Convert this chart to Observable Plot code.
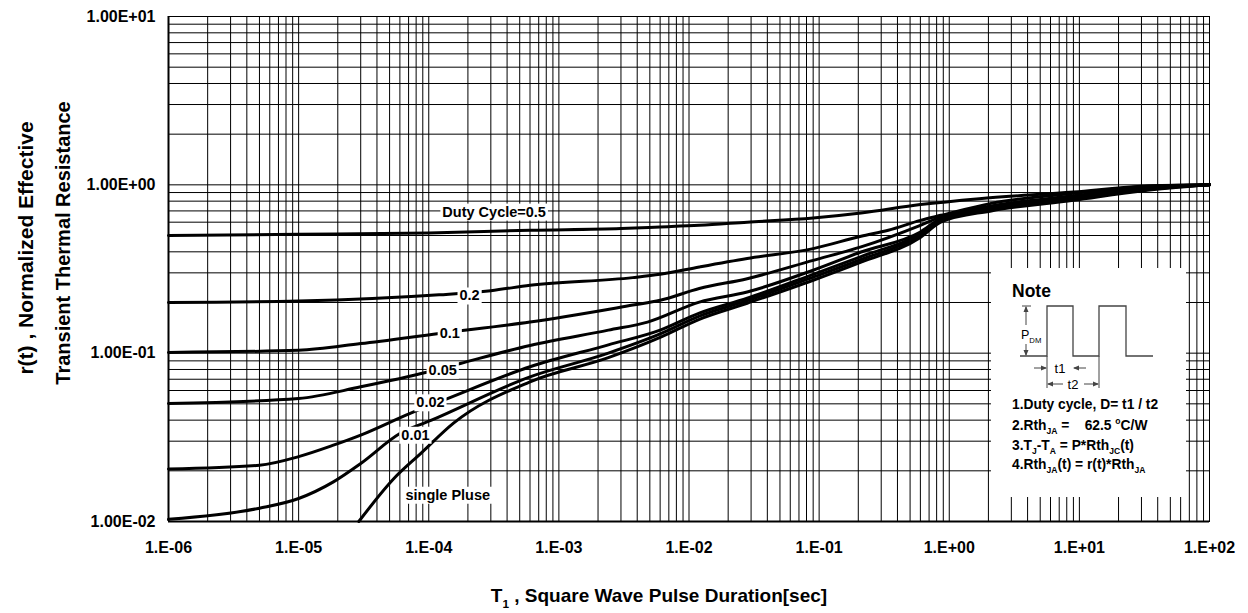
<!DOCTYPE html>
<html><head><meta charset="utf-8">
<script src="https://cdn.jsdelivr.net/npm/d3@7"></script>
<script src="https://cdn.jsdelivr.net/npm/@observablehq/plot@0.6"></script>
<style>
html,body{margin:0;padding:0;background:#fff;}
#chart{position:relative;width:1248px;height:613px;}
text{white-space:pre;}
</style></head><body><div id="chart"></div>
<script>
const FONT = "'Liberation Sans', Arial, Helvetica, sans-serif";

// axis ticks
const xTicks = [1e-6, 1e-5, 1e-4, 1e-3, 1e-2, 1e-1, 1, 10, 100];
const xTickLabels = ["1.E-06","1.E-05","1.E-04","1.E-03","1.E-02","1.E-01","1.E+00","1.E+01","1.E+02"];
const yTicks = [0.01, 0.1, 1, 10];
const yTickLabels = ["1.00E-02","1.00E-01","1.00E+00","1.00E+01"];
const minorMultipliers = [2,3,4,5,6,7,8,9];

// series: [pulse duration (s), r(t)]
const duty05 = [[1e-6,0.50],[1e-5,0.508],[1e-4,0.518],[6e-4,0.537],[3e-3,0.55],[6e-3,0.562],[1.2e-2,0.575],[2.8e-2,0.60],[9e-2,0.635],[0.21,0.68],[0.6,0.763],[1.7,0.828],[9,0.906],[30,0.98],[100,1.0]];
const duty02 = [[1e-6,0.20],[1e-5,0.204],[1.2e-4,0.222],[3e-4,0.235],[6e-4,0.253],[3.7e-3,0.281],[6e-3,0.294],[1.2e-2,0.325],[2.8e-2,0.365],[9e-2,0.418],[0.21,0.495],[0.34,0.537],[0.6,0.615],[0.86,0.659],[2.1,0.776],[9,0.89],[30,0.975],[100,1.0]];
const duty01 = [[1e-6,0.101],[1e-5,0.104],[3e-5,0.114],[1.2e-4,0.131],[6e-4,0.153],[3.7e-3,0.193],[6e-3,0.206],[1.2e-2,0.242],[2.8e-2,0.277],[9e-2,0.356],[0.21,0.428],[0.6,0.575],[0.86,0.645],[2.1,0.75],[9,0.86],[30,0.96],[100,1.0]];
const duty005 = [[1e-6,0.0503],[1e-5,0.0538],[3e-5,0.0631],[1e-4,0.0775],[1.75e-4,0.0869],[6e-4,0.111],[2.4e-3,0.137],[4.8e-3,0.153],[1.2e-2,0.201],[2.8e-2,0.231],[9e-2,0.311],[0.21,0.399],[0.6,0.525],[0.86,0.63],[2.1,0.735],[9,0.845],[30,0.95],[100,1.0]];
const duty002 = [[1e-6,0.0205],[5e-6,0.0216],[1e-5,0.0243],[1.85e-5,0.0284],[3e-5,0.0326],[7.2e-5,0.0439],[1.3e-4,0.0526],[6e-4,0.083],[2.4e-3,0.112],[6e-3,0.137],[1.2e-2,0.173],[2.8e-2,0.212],[9e-2,0.294],[0.21,0.375],[0.6,0.512],[0.86,0.62],[2.1,0.72],[9,0.83],[30,0.94],[100,1.0]];
const duty001 = [[1e-6,0.0103],[5e-6,0.012],[1e-5,0.0137],[1.85e-5,0.0172],[3e-5,0.0221],[6e-5,0.0333],[1.05e-4,0.040],[6e-4,0.0723],[2.4e-3,0.100],[6e-3,0.130],[1.2e-2,0.166],[2.8e-2,0.205],[9e-2,0.283],[0.21,0.36],[0.6,0.50],[0.86,0.61],[2.1,0.71],[9,0.82],[30,0.93],[100,1.0]];
const singlePulse = [[2.9e-5,0.01],[5.4e-5,0.018],[8.7e-5,0.0254],[1.55e-4,0.0384],[6e-4,0.0676],[2.4e-3,0.094],[6e-3,0.124],[1.2e-2,0.159],[2.8e-2,0.198],[9e-2,0.271],[0.21,0.347],[0.6,0.487],[0.86,0.60],[2.1,0.70],[9,0.81],[30,0.92],[100,1.0]];

const seriesNames = ["0.5","0.2","0.1","0.05","0.02","0.01","single"];
const seriesData = [duty05, duty02, duty01, duty005, duty002, duty001, singlePulse];

// curve labels (text, x, y)
const labelTexts = ["Duty Cycle=0.5","0.2","0.1","0.05","0.02","0.01","single Pluse"];
const labelX = [3.18e-4, 2.06e-4, 1.45e-4, 1.28e-4, 1.03e-4, 7.9e-5, 1.4e-4];
const labelY = [0.69, 0.219, 0.1315, 0.0793, 0.0508, 0.0326, 0.01435];

const rows = seriesData.flatMap((s, i) => s.map(([x, y]) => ({series: seriesNames[i], x, y})));
const labels = labelTexts.map((t, i) => ({text: t, x: labelX[i], y: labelY[i]}));

const xGrid = xTicks.slice(0, -1).flatMap(t => minorMultipliers.map(m => m * t));
const yGrid = yTicks.slice(0, -1).flatMap(t => minorMultipliers.map(m => m * t));

const W = 1248, H = 613, ML = 168, MR = 39, MT = 16, MB = 92;

const plot = Plot.plot({
  width: W, height: H,
  marginLeft: ML, marginRight: MR, marginTop: MT, marginBottom: MB,
  style: {fontFamily: FONT, background: "white", color: "#000", overflow: "visible"},
  x: {type: "log", domain: [1e-6, 100]},
  y: {type: "log", domain: [0.01, 10]},
  marks: [
    Plot.ruleX(xGrid, {stroke: "#000", strokeWidth: 1}),
    Plot.ruleX(xTicks, {stroke: "#000", strokeWidth: 1}),
    Plot.ruleY(yGrid, {stroke: "#000", strokeWidth: 1}),
    Plot.ruleY(yTicks, {stroke: "#000", strokeWidth: 1}),
    Plot.frame({stroke: "#000", strokeWidth: 1}),
    Plot.ruleX([1e-6], {stroke: "#000", strokeWidth: 2}),
    Plot.ruleY([0.01], {stroke: "#000", strokeWidth: 2}),
    Plot.line(rows, {x: "x", y: "y", z: "series", stroke: "#000", strokeWidth: 3, curve: "monotone-x"}),
    Plot.text(labels, {x: "x", y: "y", text: "text", fontSize: 14.5, fontWeight: "bold", fill: "#000"}),
    Plot.axisX(xTicks, {tickSize: 0, tickPadding: 20, fontSize: 16, fontWeight: "bold", label: null,
      tickFormat: d => xTickLabels[xTicks.indexOf(d)]}),
    Plot.axisY(yTicks, {tickSize: 0, tickPadding: 13, fontSize: 16, fontWeight: "bold", label: null,
      tickFormat: d => yTickLabels[yTicks.indexOf(d)]})
  ]
});

document.getElementById("chart").appendChild(plot);
const svg = d3.select(plot);

// white boxes behind curve labels
const labelSet = new Set(labelTexts);
svg.selectAll("text").filter(function() { return labelSet.has(this.textContent); }).each(function() {
  const b = this.getBBox();
  const r = document.createElementNS("http://www.w3.org/2000/svg", "rect");
  r.setAttribute("x", b.x - 2); r.setAttribute("y", b.y);
  r.setAttribute("width", b.width + 4); r.setAttribute("height", b.height + 1);
  r.setAttribute("fill", "#fff");
  const tr = this.getAttribute("transform");
  if (tr) r.setAttribute("transform", tr);
  this.parentNode.insertBefore(r, this);
});

function richText(g, x, y, segs, size, weight, anchor) {
  const t = g.append("text").attr("x", x).attr("y", y).attr("font-size", size)
    .attr("font-weight", weight).attr("fill", "#000").attr("font-family", FONT)
    .attr("text-anchor", anchor || "start");
  let shift = 0;
  segs.forEach(s => {
    const want = s.sub ? size * 0.3 : s.sup ? -size * 0.45 : 0;
    t.append("tspan").attr("dy", want - shift)
      .attr("font-size", (s.sub || s.sup) ? size * 0.62 : size).text(s.t);
    shift = want;
  });
  return t;
}

// axis titles
richText(svg, 659, 602, [{t: "T"}, {t: "1", sub: true}, {t: " , Square Wave Pulse Duration[sec]"}], 19, "bold", "middle");
svg.append("text").attr("transform", "translate(33,248) rotate(-90)").attr("text-anchor", "middle")
  .attr("font-size", 21).attr("font-weight", "bold").attr("font-family", FONT).text("r(t) , Normalized Effective");
svg.append("text").attr("transform", "translate(70,243) rotate(-90)").attr("text-anchor", "middle")
  .attr("font-size", 20).attr("font-weight", "bold").attr("font-family", FONT).text("Transient Thermal Resistance");

// Note inset
const note = svg.append("g").attr("text-anchor", "start");
note.append("rect").attr("x", 991).attr("y", 268).attr("width", 195).attr("height", 229).attr("fill", "#fff");
note.append("text").attr("x", 1012).attr("y", 297).attr("font-size", 17.5).attr("font-weight", "bold")
  .attr("text-anchor", "start").attr("font-family", FONT).text("Note");
const wave = [[1020,356],[1047,356],[1047,306],[1073,306],[1073,356],[1099,356],[1099,306],[1126,306],[1126,356],[1153,356]];
note.append("path").attr("d", d3.line()(wave)).attr("fill", "none").attr("stroke", "#444").attr("stroke-width", 1.3);
const gs = "#444";
function seg(x1,y1,x2,y2){ note.append("line").attr("x1",x1).attr("y1",y1).attr("x2",x2).attr("y2",y2).attr("stroke",gs).attr("stroke-width",1); }
function head(x,y,dir){
  const p = dir==="r" ? [[x,y],[x-6,y-2.5],[x-6,y+2.5]] : dir==="l" ? [[x,y],[x+6,y-2.5],[x+6,y+2.5]]
    : dir==="u" ? [[x,y],[x-2.5,y+6],[x+2.5,y+6]] : [[x,y],[x-2.5,y-6],[x+2.5,y-6]];
  note.append("path").attr("d", "M" + p.join("L") + "Z").attr("fill", gs);
}
// PDM arrow
seg(1026,307,1026,325); seg(1026,344,1026,355); head(1026,306,"u"); head(1026,356,"d");
seg(1022,306,1031,306);
richText(note, 1021, 339, [{t:"P"},{t:"DM",sub:true}], 12.5, "normal");
// extension lines
seg(1047,356,1047,388); seg(1099,356,1099,388);
// t1
seg(1034,368,1046,368); head(1047,368,"r"); seg(1074,368,1086,368); head(1073,368,"l");
richText(note, 1060, 373, [{t:"t1"}], 13, "normal", "middle");
// t2
head(1047,384,"l"); seg(1048,384,1063,384); seg(1084,384,1098,384); head(1099,384,"r");
richText(note, 1073, 389, [{t:"t2"}], 13, "normal", "middle");
// notes
richText(note, 1012, 409, [{t:"1.Duty cycle, D= t1 / t2"}], 13.8, "bold");
richText(note, 1012, 430, [{t:"2.Rth"},{t:"JA",sub:true},{t:" =    62.5 "},{t:"o",sup:true},{t:"C/W"}], 13.8, "bold");
richText(note, 1012, 450, [{t:"3.T"},{t:"J",sub:true},{t:"-T"},{t:"A",sub:true},{t:" = P*Rth"},{t:"JC",sub:true},{t:"(t)"}], 13.8, "bold");
richText(note, 1012, 469, [{t:"4.Rth"},{t:"JA",sub:true},{t:"(t) = r(t)*Rth"},{t:"JA",sub:true}], 13.8, "bold");
</script></body></html>
